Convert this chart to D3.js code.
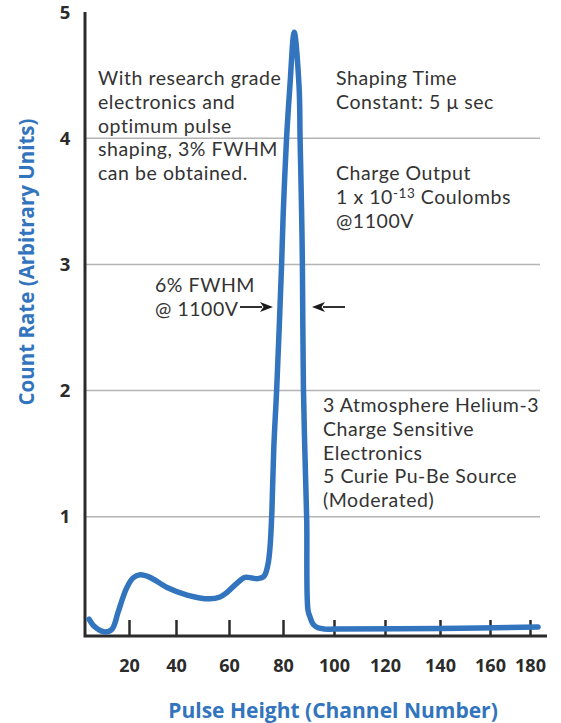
<!DOCTYPE html>
<html>
<head>
<meta charset="utf-8">
<script src="https://cdn.jsdelivr.net/npm/d3@7"></script>
<style>
  html, body { margin: 0; padding: 0; background: #fff; }
  svg { display: block; }
  text { font-family: "Open Sans", "Noto Sans", sans-serif; }
  .note { font-family: Lato, "Open Sans", sans-serif; letter-spacing: 0.55px; }
</style>
</head>
<body>
<svg id="chart"></svg>
<script>
// pulse height spectrum
const channel = [3, 5.5, 9.8, 12.8, 15.3, 17.4, 19.1, 21.7, 24.7, 28.9, 36.2, 44.2, 52.8, 56.6, 59.2,
  63, 65.9, 68.5, 70.7, 73, 74.4, 75.2, 75.9, 76.6, 77.7, 79.5, 80.1, 81.4, 82.7, 84.4,
  86.3, 86.7, 87.3, 87.6, 88, 88.6, 89.3, 89.8, 90.6, 91.8, 93.7, 96.5, 100, 140, 184];
const countRate = [0.19, 0.127, 0.087, 0.11, 0.24, 0.36, 0.44, 0.515, 0.54, 0.52, 0.44, 0.38, 0.35, 0.365, 0.4,
  0.475, 0.52, 0.515, 0.51, 0.53, 0.62, 0.76, 1.05, 1.55, 2.03, 3.01, 3.41, 4.0, 4.41, 4.84,
  4.41, 4.0, 3.41, 3.01, 2.03, 1.5, 0.975, 0.26, 0.206, 0.15, 0.12, 0.11, 0.11, 0.115, 0.127];

const xTicks = [20, 40, 60, 80, 100, 120, 140, 160, 180];
const yTicks = [1, 2, 3, 4, 5];
const gridValues = [1, 2, 3, 4];

const notesLeft = ["With research grade", "electronics and", "optimum pulse", "shaping, 3% FWHM", "can be obtained."];
const notesShaping = ["Shaping Time", "Constant: 5 \u03bc sec"];
const notesCharge = ["Charge Output", "1 x 10|-13| Coulombs", "@1100V"];
const notesFwhm = ["6% FWHM", "@ 1100V"];
const notesSetup = ["3 Atmosphere Helium-3", "Charge Sensitive", "Electronics", "5 Curie Pu-Be Source", "(Moderated)"];

const width = 561, height = 723;
const blue = "#3274bd", ink = "#2b2b2b";
const axisLeftX = 85, axisBottomY = 636, gridRight = 540;

const svg = d3.select("#chart").attr("width", width).attr("height", height);

// the original x axis is hand spaced, so the scale follows its tick marks
const x = d3.scaleLinear()
  .domain(xTicks)
  .range([129, 176, 229, 283, 334, 385, 440, 490, 530]);
const y = d3.scaleLinear().domain([0, 5]).range([643, 12]);

// gridlines
svg.append("g")
  .selectAll("line")
  .data(gridValues)
  .join("line")
  .attr("x1", axisLeftX).attr("x2", gridRight)
  .attr("y1", d => y(d)).attr("y2", d => y(d))
  .attr("stroke", "#b4b4b4").attr("stroke-width", 1.5);

// y tick labels
svg.append("g")
  .selectAll("text")
  .data(yTicks)
  .join("text")
  .attr("x", 65)
  .attr("y", d => y(d))
  .attr("dy", "0.36em")
  .attr("text-anchor", "middle")
  .attr("font-size", 18.5)
  .attr("font-weight", 700)
  .attr("fill", ink)
  .text(d => d);

// x axis with inward ticks
const xAxis = svg.append("g")
  .attr("transform", `translate(0,${axisBottomY})`)
  .call(d3.axisBottom(x).tickValues(xTicks).tickSize(-16).tickPadding(23).tickFormat(d3.format("d")));
xAxis.select(".domain").remove();
xAxis.selectAll(".tick line").attr("stroke", ink).attr("stroke-width", 2.5);
xAxis.selectAll(".tick text")
  .attr("font-family", "Open Sans, sans-serif")
  .attr("font-size", 18).attr("font-weight", 700).attr("fill", ink);

// axis lines
svg.append("path")
  .attr("d", `M${axisLeftX},12V${axisBottomY}H547`)
  .attr("fill", "none").attr("stroke", ink).attr("stroke-width", 3);

// spectrum
const line = d3.line()
  .x((d, i) => x(channel[i]))
  .y(d => y(d))
  .curve(d3.curveCatmullRom.alpha(0.5));

svg.append("path")
  .datum(countRate)
  .attr("d", line)
  .attr("fill", "none")
  .attr("stroke", blue)
  .attr("stroke-width", 5.5)
  .attr("stroke-linecap", "round")
  .attr("stroke-linejoin", "round");

// annotations, one text per line
function block(lines, x0, y0, step) {
  const g = svg.append("g");
  lines.forEach((s, i) => {
    const t = g.append("text")
      .attr("class", "note")
      .attr("x", x0).attr("y", y0 + i * step)
      .attr("font-size", 19.5)
      .attr("fill", "#333");
    const parts = s.split("|");
    if (parts.length === 3) {
      t.text(parts[0]);
      t.append("tspan").attr("dy", -6.5).attr("font-size", 13.5).text(parts[1]);
      t.append("tspan").attr("dy", 6.5).text(parts[2]);
    } else {
      t.text(s);
    }
  });
}

block(notesLeft, 98, 85, 23.8);
block(notesShaping, 336, 85, 23.8);
block(notesCharge, 336, 180, 24);
block(notesFwhm, 155, 292, 23.8);
block(notesSetup, 323, 412, 23.8);

// FWHM arrows
function arrow(x1, x2, yy) {
  const dir = Math.sign(x2 - x1);
  const head = 13;
  svg.append("line")
    .attr("x1", x1).attr("x2", x2 - dir * head + dir * 2)
    .attr("y1", yy).attr("y2", yy)
    .attr("stroke", "#1a1a1a").attr("stroke-width", 1.8);
  svg.append("path")
    .attr("d", `M${x2},${yy}L${x2 - dir * head},${yy - 5}L${x2 - dir * (head - 3.5)},${yy}L${x2 - dir * head},${yy + 5}Z`)
    .attr("fill", "#1a1a1a");
}
arrow(240, 273, 307);
arrow(345, 312, 307);

// axis titles
svg.append("text")
  .attr("transform", "translate(34,262) rotate(-90)")
  .attr("text-anchor", "middle")
  .attr("font-size", 20.5)
  .attr("font-weight", 700)
  .attr("fill", blue)
  .text("Count Rate (Arbitrary Units)");

svg.append("text")
  .attr("x", 333)
  .attr("y", 718)
  .attr("text-anchor", "middle")
  .attr("font-size", 21)
  .attr("font-weight", 700)
  .attr("fill", blue)
  .text("Pulse Height (Channel Number)");
</script>
</body>
</html>
